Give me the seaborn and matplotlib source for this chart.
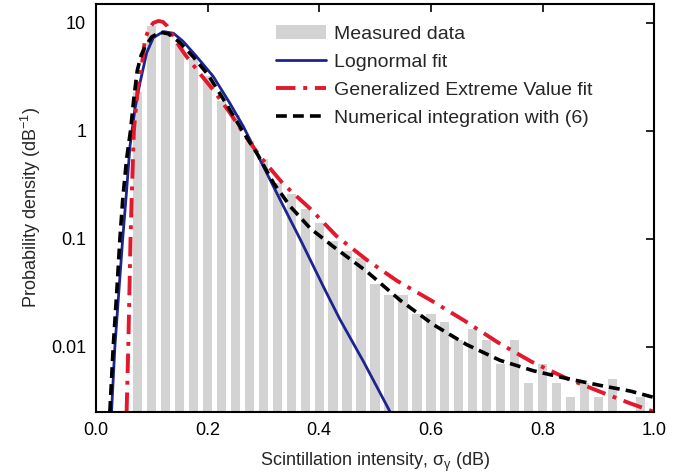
import numpy as np
import pandas as pd
import matplotlib
matplotlib.use("Agg")
import matplotlib.pyplot as plt
import seaborn as sns

# histogram of measured data (bin centres, dB) and density (dB^-1)
bin_centres = [0.075, 0.1, 0.125, 0.15, 0.175, 0.2, 0.225, 0.25, 0.275, 0.3,
               0.325, 0.35, 0.375, 0.4, 0.425, 0.45, 0.475, 0.5, 0.525, 0.55,
               0.575, 0.6, 0.625, 0.65, 0.675, 0.7, 0.725, 0.75, 0.775, 0.8,
               0.825, 0.85, 0.875, 0.9, 0.925, 0.975]
measured = [2.3, 9.3, 8.0, 6.4, 4.6, 3.2, 1.9, 1.4, 0.8, 0.55,
            0.33, 0.26, 0.19, 0.14, 0.095, 0.078, 0.067, 0.038, 0.030, 0.030,
            0.020, 0.020, 0.017, 0.0117, 0.0147, 0.0115, 0.0069, 0.0115, 0.0046, 0.0069,
            0.0046, 0.0034, 0.0046, 0.0034, 0.0050, 0.0034]

# lognormal fit
logn_x = [0.028, 0.034, 0.041, 0.048, 0.055, 0.061, 0.070, 0.079, 0.091, 0.103,
          0.121, 0.139, 0.156, 0.180, 0.210, 0.240, 0.264, 0.291, 0.330, 0.366,
          0.410, 0.437, 0.480, 0.527]
logn_y = [0.0025, 0.01, 0.032, 0.1, 0.28, 0.72, 1.6, 2.78, 5.3, 7.3,
          8.3, 8.0, 6.75, 4.9, 3.2, 1.8, 1.1, 0.58, 0.23, 0.099,
          0.034, 0.018, 0.0072, 0.0025]

# generalized extreme value fit
gev_x = [0.055, 0.058, 0.062, 0.064, 0.068, 0.075, 0.082, 0.088, 0.095, 0.103,
         0.112, 0.120, 0.128, 0.139, 0.150, 0.162, 0.186, 0.210, 0.240, 0.270,
         0.294, 0.336, 0.384, 0.431, 0.485, 0.539, 0.600, 0.660, 0.720, 0.780,
         0.840, 0.900, 0.957, 1.0]
gev_y = [0.0025, 0.01, 0.1, 0.23, 1.0, 2.5, 4.0, 7.0, 8.8, 10.0,
         10.4, 10.2, 9.3, 7.5, 6.0, 4.9, 3.4, 2.4, 1.47, 0.86,
         0.58, 0.32, 0.19, 0.106, 0.064, 0.041, 0.027, 0.0175, 0.011, 0.0073,
         0.0052, 0.0039, 0.0030, 0.0025]

# numerical integration with (6)
num_x = [0.025, 0.031, 0.037, 0.043, 0.048, 0.055, 0.062, 0.068, 0.074, 0.081,
         0.088, 0.100, 0.115, 0.130, 0.150, 0.175, 0.201, 0.230, 0.260, 0.290,
         0.318, 0.348, 0.384, 0.425, 0.485, 0.545, 0.605, 0.664, 0.724, 0.784,
         0.843, 0.903, 0.957, 1.0]
num_y = [0.0025, 0.01, 0.03, 0.1, 0.23, 0.55, 1.0, 2.0, 3.6, 5.0,
         6.0, 7.4, 8.2, 7.9, 6.6, 4.8, 3.3, 1.9, 1.05, 0.6,
         0.33, 0.20, 0.125, 0.085, 0.050, 0.027, 0.016, 0.0105, 0.0075, 0.006,
         0.0051, 0.0044, 0.0039, 0.0034]

ytick_vals = [0.01, 0.1, 1, 10]
ytick_labels = ["0.01", "0.1", "1", "10"]
xtick_vals = [0.0, 0.2, 0.4, 0.6, 0.8, 1.0]
xtick_labels = ["0.0", "0.2", "0.4", "0.6", "0.8", "1.0"]

sns.set_style("white")
plt.rcParams["font.family"] = ["Liberation Sans", "DejaVu Sans"]
plt.rcParams["mathtext.fontset"] = "custom"
plt.rcParams["mathtext.rm"] = "Liberation Sans"
plt.rcParams["mathtext.it"] = "Liberation Sans:italic"
plt.rcParams["mathtext.default"] = "regular"

fig = plt.figure(figsize=(6.85, 4.74), dpi=100)
ax = fig.add_axes([0.140, 0.131, 0.815, 0.861])

hist_df = pd.DataFrame({"x": bin_centres, "y": measured})
sns.barplot(data=hist_df, x="x", y="y", native_scale=True, width=0.67,
            color="#d3d3d3", saturation=1, linewidth=0, label="Measured data", ax=ax)

sns.lineplot(x=logn_x, y=logn_y, sort=False, color="#1c2490", lw=2.0,
             label="Lognormal fit", ax=ax)
sns.lineplot(x=gev_x, y=gev_y, sort=False, color="#e3182d", lw=2.8,
             label="Generalized Extreme Value fit", ax=ax)
sns.lineplot(x=num_x, y=num_y, sort=False, color="black", lw=2.6,
             label="Numerical integration with (6)", ax=ax)

line_styles = {"Generalized Extreme Value fit": (0, (5, 2, 1, 2)),
               "Numerical integration with (6)": (0, (3, 1.7))}
for ln in ax.get_lines():
    if ln.get_label() in line_styles:
        ln.set_linestyle(line_styles[ln.get_label()])

ax.set_yscale("log")
ax.set_xlim(0, 1.0)
ax.set_ylim(0.0025, 15)
ax.set_yticks(ytick_vals)
ax.set_yticklabels(ytick_labels)
ax.set_xticks(xtick_vals)
ax.set_xticklabels(xtick_labels)
ax.minorticks_off()
ax.tick_params(direction="in", length=6, width=1.2, top=True, right=True,
               labelsize=13, pad=7, colors="black")
for sp in ax.spines.values():
    sp.set_linewidth(1.5)
    sp.set_color("black")

ax.set_xlabel("Scintillation intensity, σ$_{γ}$ (dB)", fontsize=13, labelpad=9)
ax.set_ylabel("Probability density (dB$^{-1}$)", fontsize=13, labelpad=6)

handles, labels = ax.get_legend_handles_labels()
order = ["Measured data", "Lognormal fit", "Generalized Extreme Value fit",
         "Numerical integration with (6)"]
hmap = dict(zip(labels, handles))
ax.legend([hmap[k] for k in order], order, loc="upper left",
          bbox_to_anchor=(0.322, 0.948), frameon=False, fontsize=14,
          borderpad=0, borderaxespad=0, handlelength=2.6, handletextpad=0.4,
          labelspacing=0.54)

fig.savefig("out.png", dpi=100)
